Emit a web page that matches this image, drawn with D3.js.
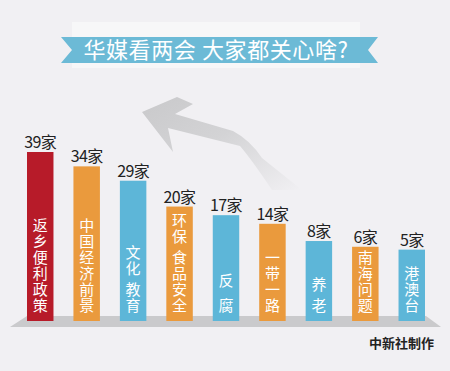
<!DOCTYPE html>
<html>
<head>
<meta charset="utf-8">
<script src="https://cdn.jsdelivr.net/npm/d3@7/dist/d3.min.js"></script>
<style>
  body { margin: 0; background: #f1f0f3; }
  svg { display: block; }
</style>
</head>
<body>
<svg width="450" height="371"></svg>
<script>
// data
var topics = ["返乡便利政策", "中国经济前景", "文化 教育", "环保 食品安全", "反  腐", "一带一路", "养 老", "南海问题", "港澳台"];
var counts = [39, 34, 29, 20, 17, 14, 8, 6, 5];
var colorKeys = ["red", "orange", "blue", "orange", "blue", "orange", "blue", "orange", "blue"];
var title = "华媒看两会 大家都关心啥?";
var credit = "中新社制作";

var palette = { red: "#b71b29", orange: "#ea9a3d", blue: "#5db6d8" };
var font = "'Noto Sans CJK SC', 'Noto Sans', sans-serif";

var svg = d3.select("svg"),
    width = +svg.attr("width"),
    height = +svg.attr("height");

var baseY = 321;

var x = d3.scaleBand()
    .domain(topics)
    .range([27, 425])
    .paddingInner(0.43)
    .paddingOuter(0);

// bar heights in the poster are not zero-based
var y = d3.scaleLinear()
    .domain([0, 39])
    .range([baseY - 57, baseY - 169]);

svg.append("rect")
    .attr("width", width).attr("height", height)
    .attr("fill", "#f1f0f3");

// light panel behind the title
svg.append("rect")
    .attr("x", 72).attr("y", 22).attr("width", 288).attr("height", 46)
    .attr("fill", "#f7f7f8");

// title ribbon
svg.append("path")
    .attr("d", "M61,37 L378,37 L368,50 L378,63 L61,63 L72,50 Z")
    .attr("fill", "#6cbad6");

svg.append("text")
    .attr("x", 216).attr("y", 58)
    .attr("text-anchor", "middle")
    .attr("font-family", font)
    .attr("font-size", 22)
    .attr("letter-spacing", 0.6)
    .attr("fill", "#fff")
    .text(title);

// big grey arrow
var defs = svg.append("defs");
var grad = defs.append("linearGradient")
    .attr("id", "arrowGrad")
    .attr("x1", "0%").attr("y1", "0%")
    .attr("x2", "100%").attr("y2", "100%");
grad.append("stop").attr("offset", "0%").attr("stop-color", "#c9c9cb");
grad.append("stop").attr("offset", "45%").attr("stop-color", "#d3d3d5");
grad.append("stop").attr("offset", "100%").attr("stop-color", "#f1f0f3");

svg.append("path")
    .attr("d", "M142,112 L177,97 L193,104 L175,114 L233,131 Q250,140 262,158 L302,190 L272,190 Q252,160 240,146 L168,128 L173,152 Z")
    .attr("fill", "url(#arrowGrad)");

// platform under the bars
svg.append("path")
    .attr("d", "M10,327 L27,316 L426,316 L441,327 Z")
    .attr("fill", "#cacacc");

var bars = svg.selectAll(".bar")
    .data(topics)
    .enter().append("g")
      .attr("class", "bar");

bars.append("rect")
    .attr("x", function(d) { return x(d); })
    .attr("y", function(d, i) { return y(counts[i]); })
    .attr("width", x.bandwidth())
    .attr("height", function(d, i) { return baseY - y(counts[i]); })
    .attr("fill", function(d, i) { return palette[colorKeys[i]]; });

bars.append("text")
    .attr("x", function(d) { return x(d) + x.bandwidth() / 2; })
    .attr("y", function(d, i) { return y(counts[i]) - 4; })
    .attr("text-anchor", "middle")
    .attr("font-family", font)
    .attr("font-size", 16)
    .attr("fill", "#222")
    .attr("letter-spacing", -0.6)
    .text(function(d, i) { return counts[i] + "家"; });

// vertical labels, written top-to-bottom and ending near the bar foot
// (spaces become narrow gaps between the words)
bars.append("text")
    .attr("x", function(d) { return x(d) + x.bandwidth() / 2; })
    .attr("y", baseY - 7)
    .attr("text-anchor", "end")
    .style("writing-mode", "vertical-rl")
    .style("text-orientation", "upright")
    .attr("font-family", font)
    .attr("font-size", 15)
    .attr("letter-spacing", 1)
    .attr("fill", "#fff")
    .text(function(d) { return d.replace(/ /g, "\u2005"); });

svg.append("text")
    .attr("x", 434).attr("y", 348)
    .attr("text-anchor", "end")
    .attr("font-family", font)
    .attr("font-size", 13)
    .attr("font-weight", "bold")
    .attr("fill", "#222")
    .text(credit);
</script>
</body>
</html>
